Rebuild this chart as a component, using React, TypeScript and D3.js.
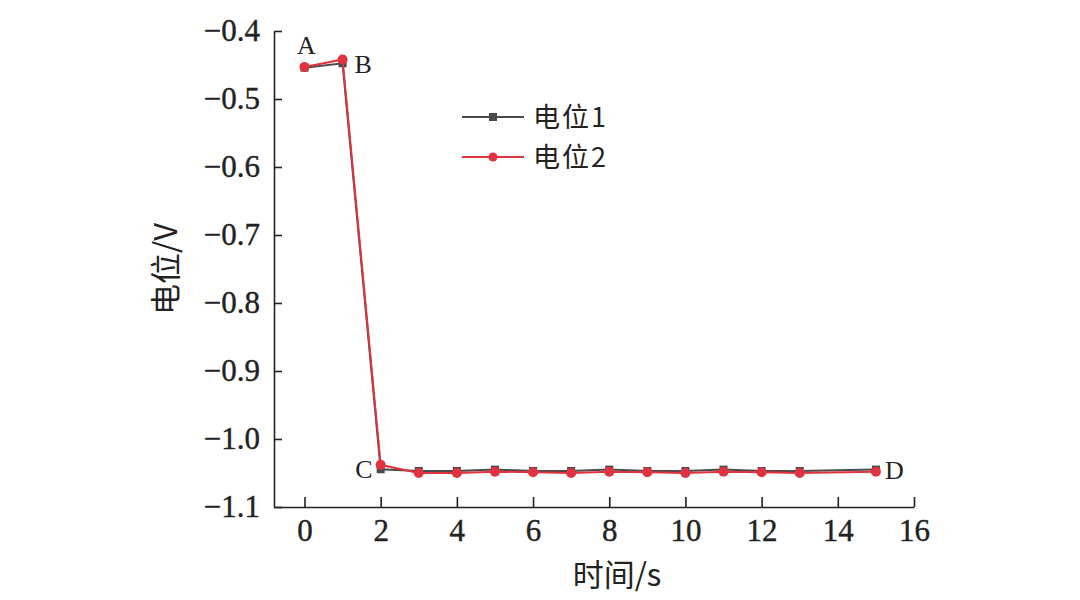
import { useEffect, useRef } from 'react';
import * as d3 from 'd3';

const W = 1080;
const H = 600;

// time (s) for each measurement; there is no reading at 14 s
const times = [0, 1, 2, 3, 4, 5, 6, 7, 8, 9, 10, 11, 12, 13, 15];
const potential1 = [-0.454, -0.4475, -1.0445, -1.047, -1.047, -1.045, -1.047, -1.047, -1.045, -1.047, -1.047, -1.045, -1.047, -1.047, -1.045];
const potential2 = [-0.453, -0.442, -1.038, -1.05, -1.05, -1.048, -1.049, -1.05, -1.048, -1.049, -1.05, -1.048, -1.049, -1.05, -1.048];

const xTicks = [0, 2, 4, 6, 8, 10, 12, 14, 16];
const yTicks = [-1.1, -1.0, -0.9, -0.8, -0.7, -0.6, -0.5, -0.4];

const seriesNames = ['电位1', '电位2'];
const pointLabels = [
  { name: 'A', t: 0, v: -0.454 },
  { name: 'B', t: 1, v: -0.4475 },
  { name: 'C', t: 2, v: -1.0445 },
  { name: 'D', t: 15, v: -1.045 },
];

const GRAY = '#4a4a4a';
const RED = '#e0323f';
const SERIF = '"Liberation Serif", "DejaVu Serif", serif';
const CJK = '"Noto Sans CJK SC", "Noto Sans", sans-serif';

export default function App() {
  const svgRef = useRef<SVGSVGElement>(null);

  useEffect(() => {
    if (!svgRef.current) return;
    const svg = d3.select(svgRef.current);
    svg.selectAll('*').remove();

    const x = d3.scaleLinear().domain([-0.8, 16]).range([274, 914]);
    const y = d3.scaleLinear().domain([-1.1, -0.4]).range([507, 31]);

    // axes
    const xAxis = svg.append('g').attr('transform', `translate(0,${y(-1.1)})`)
      .call(d3.axisBottom(x).tickValues(xTicks).tickSizeInner(-10).tickSizeOuter(0).tickPadding(12).tickFormat(d3.format('d')));
    xAxis.select('.domain').attr('stroke', '#222').attr('stroke-width', 1.6);
    xAxis.selectAll('.tick line').attr('stroke', '#222').attr('stroke-width', 1.6);
    xAxis.selectAll('.tick text').attr('font-family', SERIF).attr('font-size', 31).attr('fill', '#222')
      .attr('stroke', '#222').attr('stroke-width', 0.4);

    const yAxis = svg.append('g').attr('transform', `translate(${x(-0.8)},0)`)
      .call(d3.axisLeft(y).tickValues(yTicks).tickSizeInner(-8).tickSizeOuter(0).tickPadding(14)
        .tickFormat(d => d3.format('.1f')(d as number).replace('-', '\u2212')));
    yAxis.select('.domain').attr('stroke', '#222').attr('stroke-width', 1.6);
    yAxis.selectAll('.tick line').attr('stroke', '#222').attr('stroke-width', 1.6);
    yAxis.selectAll('.tick text').attr('font-family', SERIF).attr('font-size', 31).attr('fill', '#222')
      .attr('stroke', '#222').attr('stroke-width', 0.4);

    // axis titles
    svg.append('text').attr('x', 617).attr('y', 586)
      .attr('text-anchor', 'middle').attr('font-family', CJK).attr('font-size', 31).attr('fill', '#222')
      .text('时间/s');
    svg.append('text').attr('transform', `translate(177,${(y(-1.1) + y(-0.4)) / 2}) rotate(-90)`)
      .attr('text-anchor', 'middle').attr('font-family', CJK).attr('font-size', 31).attr('fill', '#222')
      .text('电位/V');

    const line = d3.line<number>().x((_, i) => x(times[i])).y(d => y(d));

    // series 1 (gray squares)
    svg.append('path').datum(potential1).attr('d', line).attr('fill', 'none')
      .attr('stroke', GRAY).attr('stroke-width', 2);
    svg.append('g').selectAll('rect').data(potential1).enter().append('rect')
      .attr('x', (_, i) => x(times[i]) - 4).attr('y', d => y(d) - 4)
      .attr('width', 8).attr('height', 8).attr('fill', GRAY);

    // series 2 (red circles)
    svg.append('path').datum(potential2).attr('d', line).attr('fill', 'none')
      .attr('stroke', RED).attr('stroke-width', 2);
    svg.append('g').selectAll('circle').data(potential2).enter().append('circle')
      .attr('cx', (_, i) => x(times[i])).attr('cy', d => y(d))
      .attr('r', 5).attr('fill', RED);

    // point labels
    const offsets: Record<string, [number, number, string]> = {
      A: [2, -14, 'middle'],
      B: [12, 10, 'start'],
      C: [-8, 9, 'end'],
      D: [9, 9, 'start'],
    };
    svg.append('g').selectAll('text').data(pointLabels).enter().append('text')
      .attr('x', d => x(d.t) + offsets[d.name][0])
      .attr('y', d => y(d.v) + offsets[d.name][1])
      .attr('text-anchor', d => offsets[d.name][2])
      .attr('font-family', SERIF).attr('font-size', 26).attr('fill', '#222')
      .text(d => d.name);

    // legend
    const legend = svg.append('g').attr('transform', 'translate(462,117)');
    seriesNames.forEach((name, i) => {
      const g = legend.append('g').attr('transform', `translate(0,${i * 40})`);
      const c = i === 0 ? GRAY : RED;
      g.append('line').attr('x1', 0).attr('x2', 62).attr('y1', 0).attr('y2', 0)
        .attr('stroke', c).attr('stroke-width', 2);
      if (i === 0) {
        g.append('rect').attr('x', 27).attr('y', -4).attr('width', 8).attr('height', 8).attr('fill', c);
      } else {
        g.append('circle').attr('cx', 31).attr('cy', 0).attr('r', 4.5).attr('fill', c);
      }
      g.append('text').attr('x', 71).attr('y', 10).attr('font-family', CJK).attr('font-size', 27)
        .attr('letter-spacing', 2).attr('fill', '#222').text(name);
    });
  }, []);

  return (
    <svg ref={svgRef} width={W} height={H}
      style={{ position: 'absolute', left: 0, top: 0, background: '#fff' }} />
  );
}
